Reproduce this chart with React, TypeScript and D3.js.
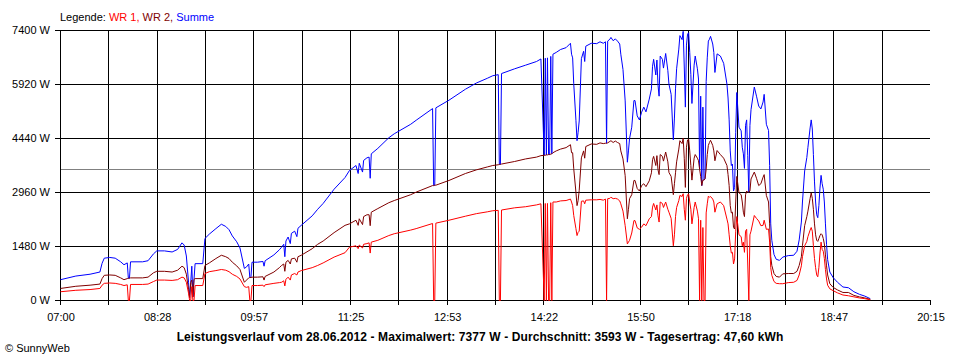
import React from "react";
import * as d3 from "d3";

// ---- data ----
const times = [
  "07:00","07:14","07:27","07:36","07:38","07:40","07:45","07:50","07:55","07:58",
  "08:01","08:02","08:03","08:04","08:15","08:20","08:25","08:28","08:35","08:42",
  "08:47","08:51","08:53","08:55","08:57","08:58","08:59","09:00","09:01","09:02",
  "09:03","09:10","09:12","09:16","09:22","09:27","09:31","09:34","09:37","09:41",
  "09:44","09:48","09:50","09:52","09:53","09:54","09:55","10:00","10:05","10:06",
  "10:07","10:15","10:20","10:22","10:24","10:25","10:26","10:28","10:30","10:31",
  "10:34","10:36","10:37","10:40","10:50","10:55","11:00","11:10","11:20","11:24",
  "11:30","11:32","11:33","11:36","11:37","11:40","11:42","11:43","11:44","11:50",
  "12:00","12:05","12:20","12:25","12:40","12:41","12:42","12:43","12:55","13:10",
  "13:20","13:30","13:35","13:40","13:41","13:42","13:43","13:55","14:05","14:15",
  "14:19","14:22","14:23","14:24","14:25","14:26","14:27","14:28","14:29","14:30",
  "14:33","14:37","14:42","14:46","14:47","14:48","14:49","14:51","14:52","14:53",
  "14:54","14:56","14:58","14:59","15:00","15:05","15:10","15:13","15:16","15:18",
  "15:19","15:20","15:22","15:23","15:25","15:27","15:29","15:31","15:32","15:34",
  "15:36","15:38","15:39","15:40","15:42","15:44","15:45","15:47","15:49","15:51",
  "15:53","15:55","15:58","16:00","16:01","16:02","16:04","16:05","16:06","16:07",
  "16:08","16:10","16:11","16:13","16:15","16:16","16:18","16:20","16:21","16:22",
  "16:23","16:25","16:26","16:28","16:29","16:30","16:31","16:32","16:33","16:34",
  "16:35","16:36","16:37","16:39","16:40","16:42","16:43","16:44","16:45","16:46",
  "16:47","16:48","16:49","16:50","16:51","16:52","16:53","16:54","16:56","16:57",
  "16:58","17:00","17:03","17:06","17:09","17:10","17:11","17:12","17:13","17:14",
  "17:15","17:16","17:17","17:18","17:20","17:22","17:23","17:24","17:25","17:26",
  "17:27","17:28","17:29","17:30","17:31","17:34","17:36","17:38","17:40","17:42",
  "17:43","17:45","17:47","17:48","17:49","17:50","17:52","17:54","17:57","18:00",
  "18:05","18:10","18:13","18:15","18:17","18:18","18:20","18:22","18:23","18:25",
  "18:26","18:27","18:28","18:29","18:30","18:31","18:32","18:33","18:34","18:35",
  "18:36","18:37","18:38","18:39","18:40","18:41","18:43","18:46","18:50","18:55",
  "19:00","19:05","19:10","19:15","19:20"
];

// WR 1 (red)
const wr1 = [
  240,280,300,330,420,470,480,470,440,410,
  430,0,0,440,440,450,520,560,560,550,
  570,640,620,500,200,0,0,380,0,0,
  410,410,740,790,820,850,830,790,720,660,
  590,380,360,380,0,0,410,410,420,380,
  430,470,490,500,540,400,580,640,560,700,
  740,700,780,820,900,960,1030,1190,1310,1460,
  1500,1420,1520,1440,1540,1560,1580,1300,1600,1650,
  1780,1830,1930,1970,2110,0,0,2120,2200,2310,
  2380,2430,2460,2470,0,0,2480,2540,2570,2620,
  2650,0,2660,0,2660,0,0,2680,0,2700,
  2700,2730,2740,2780,2700,2600,2330,1970,1780,1870,
  1900,2720,2730,2650,2750,2760,2760,2770,2750,2780,
  0,2790,2800,2830,2790,2800,2780,2730,2650,2450,
  2050,1550,1600,1650,1850,2190,2190,1990,1950,2010,
  2100,2050,2240,2300,2560,2660,2480,2620,2320,2150,
  2700,2660,2550,2700,2500,2420,2250,1500,1800,2300,
  2550,2740,2880,2850,2927,2500,2200,2800,2900,2920,
  2700,2500,2100,2550,2700,2450,2240,0,2200,0,
  2000,0,0,2400,2650,2860,2830,2850,2780,2700,
  2420,2650,2700,2600,2230,2100,1800,1500,1300,1320,
  1000,1140,1900,2300,1800,1750,1500,1600,1320,1900,
  1950,1000,0,1800,1900,2330,2250,2180,2050,2060,
  2200,1950,1960,1600,900,690,520,470,460,460,
  490,500,550,700,950,1200,1500,1620,1750,1930,
  2000,1900,1500,1150,900,700,650,900,1300,1600,
  1400,1350,1150,850,590,420,320,270,210,150,
  130,100,70,50,20
];

// WR 2 (dark red)
const wr2 = [
  330,390,420,450,600,690,700,690,620,570,
  600,610,610,620,620,640,760,800,800,780,
  830,940,900,720,300,80,500,560,100,580,
  600,600,960,1030,1150,1240,1200,1150,1050,950,
  850,500,560,620,630,630,640,640,650,560,
  660,780,900,960,1000,800,1050,1100,1000,1140,
  1160,1050,1200,1240,1420,1540,1630,1860,2060,2100,
  2200,2060,2240,2080,2300,2350,2350,2050,2420,2520,
  2680,2740,2900,2970,3150,3150,3160,3160,3290,3480,
  3580,3660,3700,3720,3730,3730,3740,3810,3880,3930,
  3970,3980,3980,3990,3990,4000,4000,4010,4020,4050,
  4100,4150,4190,4270,4050,4050,3610,2970,2600,2740,
  3020,3910,4100,3900,4220,4290,4280,4320,4300,4310,
  4310,4320,4360,4380,4330,4370,4330,4300,4100,3880,
  3420,2240,2500,2790,2900,3290,3290,3070,3000,3150,
  3200,3120,3280,3500,3860,3950,3700,3970,3580,3450,
  4000,3950,3820,4070,3800,3510,3400,2900,3200,3500,
  3800,4150,4380,4300,4450,3900,3100,4200,4400,4420,
  4100,3700,3300,3900,4000,3900,3830,3600,3400,3150,
  3300,3300,3340,3600,4000,4250,4330,4390,4250,4100,
  3830,4110,4000,3900,3700,3450,3150,2600,2400,2420,
  2000,1960,2700,3400,2950,2900,2700,2420,2300,2900,
  3000,2970,2970,3000,3330,3520,3350,3150,3200,3380,
  3450,2880,2700,2100,1200,960,740,660,640,730,
  740,740,800,960,1200,1500,2050,2300,2450,2800,
  2950,2800,2500,2100,1800,1650,1620,1700,1780,1830,
  1800,1700,1550,1250,950,700,460,360,290,220,
  220,140,100,70,30
];

// Summe (blue)
const summe = [
  570,670,720,780,1020,1160,1180,1160,1060,980,
  1030,610,610,1060,1060,1090,1280,1360,1360,1330,
  1400,1580,1520,1220,500,80,500,940,100,580,
  1010,1010,1700,1820,1970,2090,2030,1940,1770,1610,
  1440,880,920,1000,630,630,1050,1050,1070,940,
  1090,1250,1390,1460,1540,1200,1630,1740,1560,1840,
  1900,1750,1980,2060,2320,2500,2660,3050,3370,3560,
  3700,3480,3760,3520,3840,3910,3930,3350,4020,4170,
  4460,4570,4830,4940,5260,3150,3160,5280,5490,5790,
  5960,6090,6160,6190,3730,3730,6220,6350,6450,6550,
  6620,3980,6640,3990,6650,4000,4000,6690,4020,6750,
  6800,6880,6930,7050,6750,6650,5940,4940,4380,4610,
  4920,6630,6830,6550,6970,7050,7040,7090,7050,7090,
  4310,7110,7160,7210,7120,7170,7110,7030,6750,6330,
  5470,3790,4100,4440,4750,5480,5480,5060,4950,5160,
  5300,5170,5520,5800,6420,6610,6180,6590,5900,5600,
  6700,6610,6370,6770,6300,5930,5650,4400,5000,5800,
  6350,6890,7260,7150,7377,6400,5300,7000,7300,7340,
  6800,6200,5400,6450,6700,6350,6070,3600,5600,3150,
  5300,3300,3340,6000,6650,7110,7160,7240,7030,6800,
  6250,6760,6700,6500,5930,5550,4950,4100,3700,3740,
  3000,3100,4600,5700,4750,4650,4200,4020,3620,4800,
  4950,3970,2970,4800,5230,5850,5600,5330,5250,5440,
  5650,4830,4660,3700,2100,1650,1260,1130,1100,1190,
  1230,1240,1350,1660,2150,2700,3550,3920,4200,4730,
  4950,4700,4000,3250,2700,2350,2270,2600,3080,3430,
  3200,3050,2700,2100,1540,1120,780,630,500,370,
  350,240,170,120,50
];

const yTicks = [0, 1480, 2960, 4440, 5920, 7400];
const xTickLabels = ["07:00","08:28","09:57","11:25","12:53","14:22","15:50","17:18","18:47","20:15"];
const average = 3593;
const legendItems = [
  { label: "WR 1, ", color: "#ff0000" },
  { label: "WR 2, ", color: "#800000" },
  { label: "Summe", color: "#0000ff" },
];
const title = "Leistungsverlauf vom 28.06.2012 - Maximalwert: 7377 W - Durchschnitt: 3593 W - Tagesertrag: 47,60 kWh";

const toMin = (s: string) => {
  const [h, m] = s.split(":").map(Number);
  return h * 60 + m;
};

export default function App() {
  const W = 960, H = 360;
  const startMin = toMin(xTickLabels[0]);
  const endMin = toMin(xTickLabels[xTickLabels.length - 1]);
  const x = d3.scaleLinear().domain([startMin, endMin]).range([60, 930]);
  const y = d3.scaleLinear().domain([0, 7400]).range([300, 30]);
  const nGrid = 18;
  const gridMins = d3.range(nGrid + 1).map((i) => startMin + (i * (endMin - startMin)) / nGrid);
  const mins = times.map(toMin);
  const px = (v: number) => Math.round(v) + 0.5;

  const line = d3
    .line<number>()
    .x((_, i) => x(mins[i]) + 0.5)
    .y((d) => y(d) + 0.5);

  const font = "'Liberation Sans', Arial, sans-serif";

  return (
    <svg
      width={W}
      height={H}
      style={{ position: "absolute", left: 0, top: 0, background: "#fff" }}
      fontFamily={font}
      fontSize={11}
    >
      {/* legend */}
      <text x={60} y={21}>
        <tspan fill="#000">Legende: </tspan>
        {legendItems.map((l) => (
          <tspan key={l.label} fill={l.color}>
            {l.label}
          </tspan>
        ))}
      </text>

      {/* horizontal grid + y labels */}
      {yTicks.map((t) => (
        <g key={t}>
          <line x1={55} x2={930} y1={px(y(t))} y2={px(y(t))} stroke="#000" shapeRendering="crispEdges" />
          <text x={50} y={y(t) + 4} textAnchor="end">
            {t} W
          </text>
        </g>
      ))}

      {/* vertical grid (inner lines + left axis) */}
      {gridMins.slice(0, nGrid).map((m, i) => (
        <line
          key={i}
          x1={px(x(m))}
          x2={px(x(m))}
          y1={30}
          y2={305}
          stroke="#000"
          shapeRendering="crispEdges"
        />
      ))}
      <line x1={px(x(endMin))} x2={px(x(endMin))} y1={300} y2={305} stroke="#000" shapeRendering="crispEdges" />

      {/* x labels */}
      {xTickLabels.map((l, i) => (
        <text key={l} x={x(gridMins[i * 2]) + 1} y={321} textAnchor="middle">
          {l}
        </text>
      ))}

      {/* average line */}
      <line x1={61} x2={930} y1={px(y(average))} y2={px(y(average))} stroke="#808080" shapeRendering="crispEdges" />

      {/* series */}
      <path d={line(summe) || ""} fill="none" stroke="#0000ff" strokeWidth={1} />
      <path d={line(wr2) || ""} fill="none" stroke="#800000" strokeWidth={1} />
      <path d={line(wr1) || ""} fill="none" stroke="#ff0000" strokeWidth={1} />

      {/* title */}
      <text x={480} y={341} textAnchor="middle" fontWeight="bold" fontSize={12} letterSpacing={0.1}>
        {title}
      </text>
      <text x={5} y={352}>
        © SunnyWeb
      </text>
    </svg>
  );
}
